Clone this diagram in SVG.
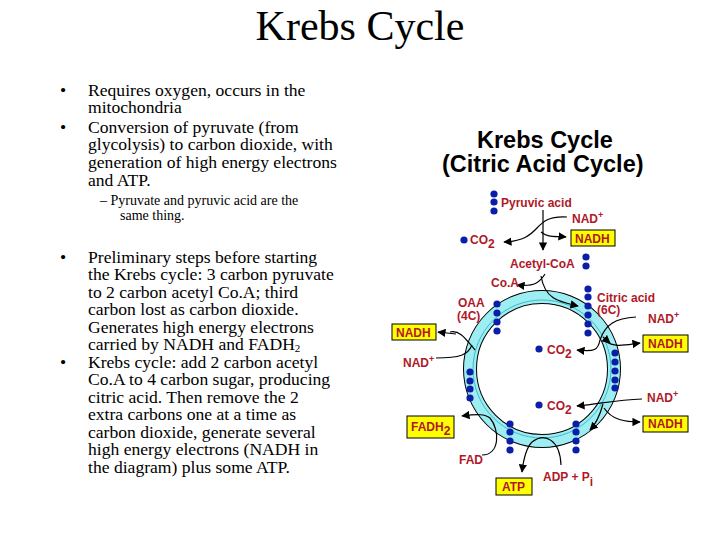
<svg xmlns="http://www.w3.org/2000/svg" width="720" height="540" viewBox="0 0 720 540">
<style>
.t{font-family:"Liberation Serif",serif;fill:#000}
.r{font-family:"Liberation Sans",Arial,sans-serif;font-weight:bold;fill:#b01828;font-size:12px}
.bx{fill:#ffff00;stroke:#000;stroke-width:1}
.d{fill:#0c1ea8}
.c{fill:none;stroke:#000;stroke-width:1.2}
</style>
<defs>
<marker id="a" viewBox="0 0 10 10" refX="9" refY="5" markerWidth="7" markerHeight="7" orient="auto"><path d="M0,0L10,5L0,10z" fill="#000"/></marker>
</defs>
<rect width="720" height="540" fill="#fff"/>
<text class="t" x="360" y="40" font-size="42" text-anchor="middle">Krebs Cycle</text>
<g id="bullets" class="t" font-size="17.6">
<text x="60" y="96">•</text><text x="88" y="96">Requires oxygen, occurs in the</text>
<text x="88" y="113">mitochondria</text>
<text x="60" y="133">•</text><text x="88" y="133">Conversion of pyruvate (from</text>
<text x="88" y="150">glycolysis) to carbon dioxide, with</text>
<text x="88" y="168">generation of high energy electrons</text>
<text x="88" y="186">and ATP.</text>
<text x="100" y="205" font-size="14">–  Pyruvate and pyruvic acid are the</text>
<text x="120" y="220" font-size="14">same thing.</text>
<text x="60" y="263">•</text><text x="88" y="263">Preliminary steps before starting</text>
<text x="88" y="280">the Krebs cycle: 3 carbon pyruvate</text>
<text x="88" y="298">to 2 carbon acetyl Co.A; third</text>
<text x="88" y="315">carbon lost as carbon dioxide.</text>
<text x="88" y="333">Generates high energy electrons</text>
<text x="88" y="350">carried by NADH and FADH<tspan font-size="11" dy="2">2</tspan></text>
<text x="60" y="368">•</text><text x="88" y="368">Krebs cycle: add 2 carbon acetyl</text>
<text x="88" y="385">Co.A to 4 carbon sugar, producing</text>
<text x="88" y="403">citric acid.  Then remove the 2</text>
<text x="88" y="420">extra carbons one at a time as</text>
<text x="88" y="438">carbon dioxide, generate several</text>
<text x="88" y="455">high energy electrons  (NADH in</text>
<text x="88" y="473">the diagram) plus some ATP.</text>
</g>
<g id="title2" font-family="Liberation Sans,Arial,sans-serif" font-weight="bold" font-size="23.5" fill="#000">
<text x="477" y="148">Krebs Cycle</text>
<text x="442" y="172">(Citric Acid Cycle)</text>
</g>
<g id="ring">
<circle cx="542" cy="369" r="72" fill="none" stroke="#000" stroke-width="14"/>
<circle cx="542" cy="369" r="72" fill="none" stroke="#9deef2" stroke-width="12"/>
<circle cx="542" cy="369" r="69" fill="none" stroke="#2aa8c0" stroke-width="0.8"/>
</g>
<g id="connectors" class="c">
<path d="M543,210 V250" marker-end="url(#a)"/>
<path d="M567,217 C530,215 545,240 504,242" marker-end="url(#a)"/>
<path d="M541,232 C548,238 555,236 566,237" marker-end="url(#a)"/>
<path d="M545,274 C540,282 535,287 517,285" marker-end="url(#a)"/>
<path d="M541,276 C545,300 560,302 578,306" marker-end="url(#a)"/>
<path d="M450,332 C460,330 465,338 475,350"/>
<path d="M456,334 L438,332" marker-end="url(#a)"/>
<path d="M436,358 C460,358 468,355 472,345"/>
<path d="M636,317 C615,318 605,325 600,340 C598,350 595,352 577,350" marker-end="url(#a)"/>
<path d="M603,337 L610,343" marker-end="url(#a)"/>
<path d="M605,341 C615,348 625,345 640,343" marker-end="url(#a)"/>
<path d="M642,399 C615,400 600,404 577,406" marker-end="url(#a)"/>
<path d="M603,404 C600,415 595,425 590,430" marker-end="url(#a)"/>
<path d="M604,408 C612,420 625,422 640,422" marker-end="url(#a)"/>
<path d="M482,455 C500,455 500,430 490,418 C485,414 478,414 462,416" marker-end="url(#a)"/>
<path d="M561,465 C560,440 545,432 532,442 C527,447 524,455 522,472" marker-end="url(#a)"/>
</g>
<g id="dots" class="d">
<circle cx="494" cy="194" r="3.6"/><circle cx="494" cy="202" r="3.6"/><circle cx="494" cy="211" r="3.6"/>
<circle cx="464" cy="240" r="3.6"/>
<circle cx="586" cy="257" r="3.6"/><circle cx="586" cy="266" r="3.6"/>
<circle cx="497" cy="304" r="3.6"/><circle cx="497" cy="313" r="3.6"/><circle cx="497" cy="322" r="3.6"/><circle cx="497" cy="331" r="3.6"/>
<circle cx="588" cy="289" r="3.6"/><circle cx="588" cy="297" r="3.6"/><circle cx="588" cy="306" r="3.6"/><circle cx="588" cy="315" r="3.6"/><circle cx="588" cy="324" r="3.6"/><circle cx="588" cy="333" r="3.6"/>
<circle cx="615" cy="353" r="3.6"/><circle cx="615" cy="362" r="3.6"/><circle cx="615" cy="371" r="3.6"/><circle cx="615" cy="380" r="3.6"/><circle cx="615" cy="388" r="3.6"/>
<circle cx="470" cy="372" r="3.6"/><circle cx="470" cy="381" r="3.6"/><circle cx="470" cy="389" r="3.6"/><circle cx="470" cy="398" r="3.6"/>
<circle cx="510" cy="424" r="3.6"/><circle cx="510" cy="432" r="3.6"/><circle cx="510" cy="441" r="3.6"/><circle cx="510" cy="450" r="3.6"/>
<circle cx="576" cy="424" r="3.6"/><circle cx="576" cy="432" r="3.6"/><circle cx="576" cy="441" r="3.6"/><circle cx="576" cy="450" r="3.6"/>
<circle cx="539" cy="349" r="3.6"/><circle cx="539" cy="405" r="3.6"/>
</g>
<g id="labels">
<text class="r" x="501" y="207">Pyruvic acid</text>
<text class="r" x="572" y="223">NAD<tspan font-size="9" dy="-5">+</tspan></text>
<g id="nadh1"><rect class="bx" x="571" y="230" width="44" height="16"/><text class="r" x="575" y="243">NADH</text></g>
<text class="r" x="470" y="244">CO<tspan dy="4">2</tspan></text>
<text class="r" x="510" y="268">Acetyl-CoA</text>
<text class="r" x="491" y="287">Co.A</text>
<text class="r" x="458" y="307">OAA</text>
<text class="r" x="457" y="320">(4C)</text>
<text class="r" x="597" y="302">Citric acid</text>
<text class="r" x="597" y="314">(6C)</text>
<text class="r" x="648" y="323">NAD<tspan font-size="9" dy="-5">+</tspan></text>
<g id="nadh2"><rect class="bx" x="392" y="324" width="44" height="16"/><text class="r" x="396" y="337">NADH</text></g>
<text class="r" x="403" y="367">NAD<tspan font-size="9" dy="-5">+</tspan></text>
<text class="r" x="547" y="354">CO<tspan dy="4">2</tspan></text>
<g id="nadh3"><rect class="bx" x="643" y="335" width="45" height="17"/><text class="r" x="648" y="348">NADH</text></g>
<text class="r" x="647" y="402">NAD<tspan font-size="9" dy="-5">+</tspan></text>
<text class="r" x="547" y="410">CO<tspan dy="4">2</tspan></text>
<g id="nadh4"><rect class="bx" x="643" y="416" width="45" height="16"/><text class="r" x="648" y="428">NADH</text></g>
<g id="fadh2"><rect class="bx" x="407" y="416" width="47" height="22"/><text class="r" x="411" y="431">FADH<tspan dy="4">2</tspan></text></g>
<text class="r" x="459" y="464">FAD</text>
<g id="atp"><rect class="bx" x="496" y="478" width="36" height="17"/><text class="r" x="502" y="491">ATP</text></g>
<text class="r" x="543" y="481">ADP + P<tspan dy="5">i</tspan></text>
</g>
</svg>
